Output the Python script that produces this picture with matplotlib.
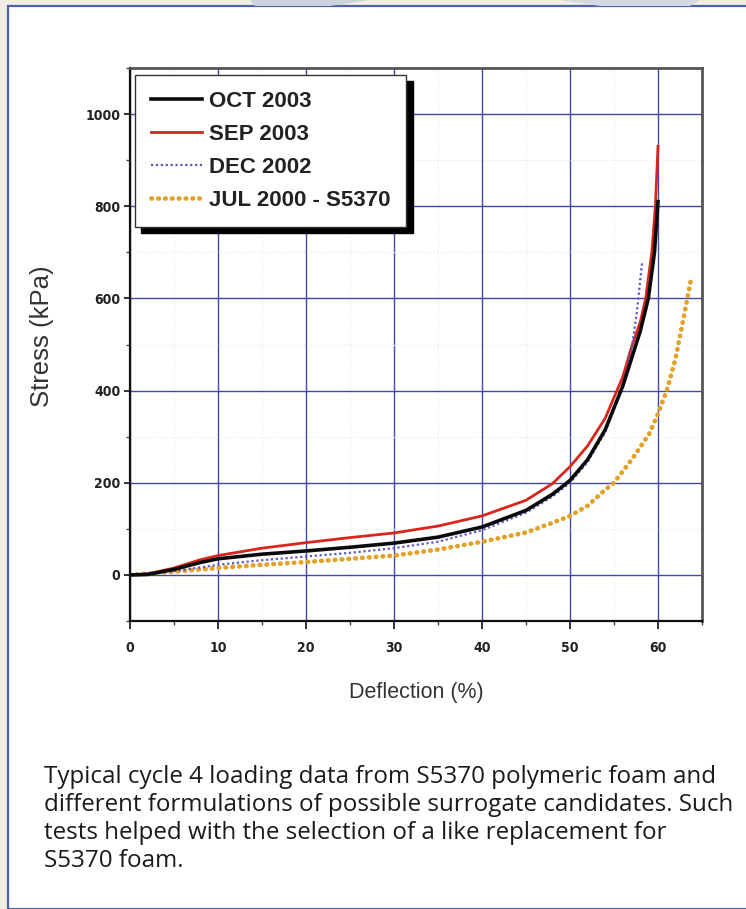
import matplotlib
matplotlib.use("Agg")
import matplotlib.pyplot as plt
from matplotlib import font_manager
from matplotlib.font_manager import FontProperties
from matplotlib.patches import Rectangle, Polygon
from matplotlib.ticker import MultipleLocator

# ---------------- data ----------------
oct_x = [0, 2, 5, 8, 10, 15, 20, 25, 30, 35, 40, 45, 48, 50, 52, 54, 56, 57, 58.0, 58.9, 59.6, 60.0]
oct_y = [0, 1, 12, 27, 35, 45, 52, 60, 69, 82, 104, 140, 175, 205, 250, 315, 410, 470, 530, 600, 700, 810]

sep_x = [0, 2, 5, 8, 10, 15, 20, 25, 30, 35, 40, 45, 48, 50, 52, 54, 56, 57, 58.0, 58.6, 59.3, 59.7, 60.0]
sep_y = [0, 2, 15, 33, 42, 58, 70, 81, 91, 106, 128, 162, 198, 235, 280, 340, 430, 495, 550, 600, 700, 800, 930]

dec_x = [0, 5, 10, 15, 20, 25, 30, 35, 40, 45, 48, 50, 52, 54, 56, 57, 57.6, 58.2]
dec_y = [0, 8, 22, 32, 40, 48, 58, 72, 97, 135, 170, 200, 245, 310, 410, 490, 570, 680]

jul_x = [0, 5, 10, 15, 20, 25, 30, 35, 40, 45, 48, 50, 52, 54, 55, 57, 59, 60, 61, 62, 62.9, 63.8]
jul_y = [0, 7, 15, 22, 28, 35, 42, 55, 72, 92, 113, 128, 150, 185, 200, 250, 306, 350, 400, 470, 557, 646]

series_labels = ["OCT 2003", "SEP 2003", "DEC 2002", "JUL 2000 - S5370"]
x_ticks = [0, 10, 20, 30, 40, 50, 60]
y_ticks = [0, 200, 400, 600, 800, 1000]

caption = ("Typical cycle 4 loading data from S5370 polymeric foam and\n"
           "different formulations of possible surrogate candidates. Such\n"
           "tests helped with the selection of a like replacement for\n"
           "S5370 foam.")

# ---------------- fonts ----------------
ttf = font_manager.fontManager.ttflist
names = {f.name for f in ttf}


def weight_num(w):
    if isinstance(w, (int, float)):
        return w
    return font_manager.weight_dict.get(str(w), 400)


cond_bold = None
best = -1
for f in ttf:
    is_cond = ("Narrow" in f.name or "Condensed" in f.name
               or str(f.stretch) in ("condensed", "semi-condensed"))
    if is_cond and f.style == "normal":
        w = weight_num(f.weight)
        score = -abs(w - 700)
        if score > best or cond_bold is None:
            best = score
            cond_bold = f.fname

base = "Liberation Sans"
if cond_bold:
    tick_prop = FontProperties(fname=cond_bold, size=10)
else:
    tick_prop = FontProperties(family=base, weight="bold", size=9)
cap_font = "Open Sans" if "Open Sans" in names else "DejaVu Sans"

W, H = 746, 909
fig = plt.figure(figsize=(W / 100, H / 100), dpi=100)
fig.patch.set_facecolor("#f2eee3")

# white panel with blue border
panel = Rectangle((8 / W, 0), 1.0, 1 - 6 / H, transform=fig.transFigure,
                  facecolor="white", edgecolor="#4a64a6", linewidth=1.6, zorder=0)
fig.add_artist(panel)
# faint swooshes above the panel
fig.add_artist(Polygon([(250 / W, 1), (370 / W, 1), (330 / W, 1 - 6 / H), (255 / W, 1 - 6 / H)],
                       closed=True, transform=fig.transFigure, facecolor="#ccd2de",
                       edgecolor="none", zorder=0))
fig.add_artist(Polygon([(560 / W, 1), (700 / W, 1), (690 / W, 1 - 6 / H), (600 / W, 1 - 6 / H)],
                       closed=True, transform=fig.transFigure, facecolor="#d4d9e3",
                       edgecolor="none", zorder=0))

left, right, top, bottom = 130, 702, 68, 621
ax = fig.add_axes([left / W, 1 - bottom / H, (right - left) / W, (bottom - top) / H])
ax.set_facecolor("white")

ax.set_xlim(0, 65)
ax.set_ylim(-100, 1100)
ax.xaxis.set_minor_locator(MultipleLocator(5))
ax.yaxis.set_minor_locator(MultipleLocator(100))
ax.set_xticks(x_ticks)
ax.set_yticks(y_ticks)

ax.grid(which="major", color="#4545b0", linewidth=1.0, zorder=1)
ax.grid(which="minor", color="#e6e6dc", linewidth=0.8, linestyle=(0, (1, 2)), zorder=1)
ax.set_axisbelow(True)

for s in ["left", "bottom"]:
    ax.spines[s].set_color("#111111")
    ax.spines[s].set_linewidth(1.6)
for s in ["top", "right"]:
    ax.spines[s].set_color("#555555")
    ax.spines[s].set_linewidth(2.0)

ax.tick_params(axis="x", which="major", direction="out", length=6, width=1.3,
               color="#222222", labelcolor="#222222", pad=8.5)
ax.tick_params(axis="y", which="major", direction="out", length=4.5, width=1.3,
               color="#222222", labelcolor="#222222", pad=2.5)
ax.tick_params(which="minor", direction="out", length=3, width=1.0, color="#444444")
for lab in ax.get_xticklabels() + ax.get_yticklabels():
    lab.set_fontproperties(tick_prop)

ax.set_xlabel("Deflection (%)", fontsize=15.5, family=base, color="#333333", labelpad=19)
ax.set_ylabel("Stress (kPa)", fontsize=18.5, family=base, color="#333333")
ax.yaxis.set_label_coords(-0.133, 0.515)

l_oct, = ax.plot(oct_x, oct_y, color="#0a0a0a", linewidth=2.6, zorder=4, label=series_labels[0])
l_sep, = ax.plot(sep_x, sep_y, color="#d8261e", linewidth=2.0, zorder=3, label=series_labels[1])
l_dec, = ax.plot(dec_x, dec_y, color="#5a5ac0", linewidth=1.6, linestyle=(0, (1, 1.2)),
                 zorder=3.5, label=series_labels[2])
l_jul, = ax.plot(jul_x, jul_y, color="#e2a228", linewidth=3.4, linestyle=(0, (0.1, 1.35)),
                 dash_capstyle="round", solid_capstyle="round", zorder=2.5, label=series_labels[3])

leg = ax.legend(handles=[l_oct, l_sep, l_dec, l_jul], loc="upper left",
                bbox_to_anchor=(0.009, 0.987), borderaxespad=0, frameon=True,
                fancybox=False, framealpha=1, edgecolor="#333333",
                shadow={"ox": 4.5, "oy": -4.5, "color": "black", "alpha": 1},
                prop={"family": base, "weight": "bold", "size": 16},
                handlelength=2.3, handletextpad=0.3, labelspacing=0.53,
                borderpad=0.72)
leg.get_frame().set_linewidth(1.0)
for t in leg.get_texts():
    t.set_color("#222222")
leg.set_zorder(6)

fig.text(44 / W, 1 - 765 / H, caption, ha="left", va="top", fontsize=17.4,
         family=cap_font, color="#1a1a1a", linespacing=1.22)

fig.savefig("out.png", dpi=100, facecolor=fig.get_facecolor())
